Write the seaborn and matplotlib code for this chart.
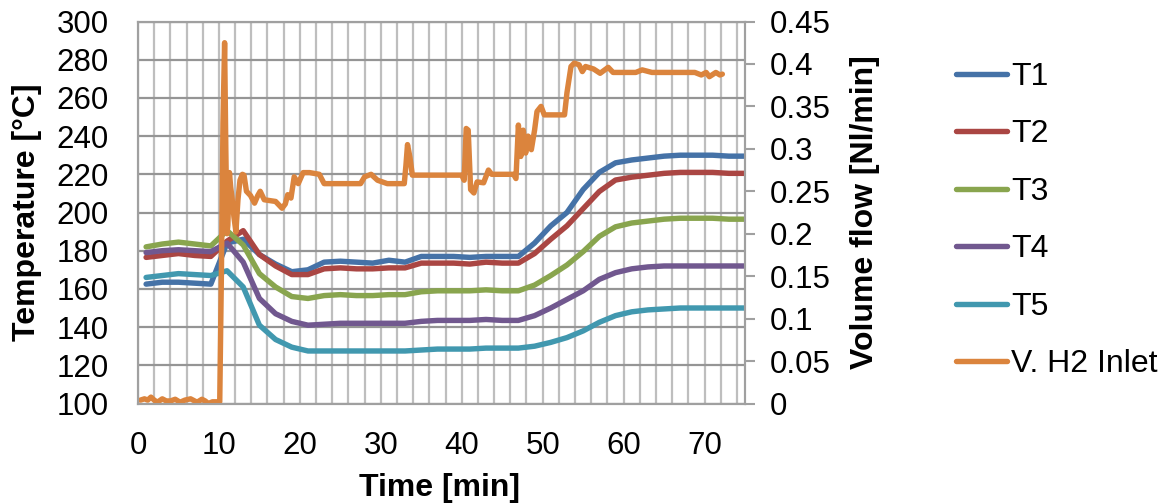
import numpy as np
import pandas as pd
import matplotlib
matplotlib.use("Agg")
import matplotlib.pyplot as plt
from matplotlib.ticker import MultipleLocator, FuncFormatter
import seaborn as sns

# ---------------- data ----------------
temp_time = [1, 3, 5, 7, 9, 11, 13, 15, 17, 19, 21, 23, 25, 27, 29, 31, 33, 35, 37,
             39, 41, 43, 45, 47, 49, 51, 53, 55, 57, 59, 61, 63, 65, 67, 69, 71, 73, 75]
T1 = [162.5, 163.5, 163.5, 163, 162.5, 184, 186, 178, 173, 169, 170, 174, 174.5, 174,
      173.5, 175, 174, 177, 177, 177, 176.5, 177, 177, 177, 184, 193, 200, 212, 221,
      226, 227.5, 228.5, 229.5, 230, 230, 230, 229.5, 229.5]
T2 = [176.5, 177.5, 178.5, 177.5, 177, 185, 190.5, 178, 172, 167.5, 167.5, 170.5, 171,
      170.5, 170.5, 171, 171, 173.5, 173.5, 173.5, 173, 174, 173.5, 173.5, 178.5, 186,
      193, 202, 211, 217, 218.5, 219.5, 220.5, 221, 221, 221, 220.5, 220.5]
T3 = [182, 183.5, 184.5, 183.5, 182.5, 190.5, 183, 168, 161, 156, 155, 156.5, 157, 156.5,
      156.5, 157, 157, 158.5, 159, 159, 159, 159.5, 159, 159, 162, 167, 172.5, 179.5,
      187.5, 192.5, 194.5, 195.5, 196.5, 197, 197, 197, 196.5, 196.5]
T4 = [179, 180, 180.5, 180, 179.5, 184, 174, 155, 147, 143, 141, 141.5, 142, 142, 142,
      142, 142, 143, 143.5, 143.5, 143.5, 144, 143.5, 143.5, 146, 150, 154.5, 159, 165,
      168.5, 170.5, 171.5, 172, 172, 172, 172, 172, 172]
T5 = [166, 167, 168, 167.5, 167, 169.5, 161, 141, 133.5, 129.5, 127.5, 127.5, 127.5,
      127.5, 127.5, 127.5, 127.5, 128, 128.5, 128.5, 128.5, 129, 129, 129, 130, 132,
      134.5, 138, 142.5, 146, 148, 149, 149.5, 150, 150, 150, 150, 150]

vol_time = [0.3, 0.8, 1.2, 1.6, 2.0, 2.4, 3.0, 3.5, 4.0, 4.6, 5.2, 5.8, 6.5, 7.0, 7.3,
            7.9, 8.3, 8.7, 9.2, 9.7, 10.1, 10.3, 10.5, 10.7, 10.85, 11.0, 11.1, 11.3,
            11.45, 11.6, 11.85, 12.1, 12.35, 12.6, 12.9, 13.1, 13.4, 13.9, 14.4, 14.8,
            15.1, 15.6, 16.3, 17.0, 17.8, 18.2, 18.5, 18.9, 19.3, 19.8, 20.4, 21.2,
            22.4, 23.0, 25.0, 27.5, 28.0, 28.8, 29.6, 30.8, 32.9, 33.1, 33.3, 33.6,
            33.9, 35.0, 37.0, 40.0, 40.3, 40.55, 40.8, 41.1, 41.5, 41.9, 42.7, 43.3,
            43.7, 46.4, 46.7, 47.0, 47.3, 47.6, 47.9, 48.2, 48.6, 49.0, 49.3, 49.8,
            50.2, 52.7, 53.0, 53.5, 53.9, 54.5, 54.9, 55.3, 56.3, 57.1, 58.1, 58.7,
            61.5, 62.3, 63.5, 68.8, 69.6, 70.2, 70.6, 71.4, 71.9, 72.2]
vol_flow = [0.004, 0.0055, 0.004, 0.0075, 0.004, 0.0015, 0.0055, 0.003, 0.003, 0.005,
            0.0015, 0.004, 0.0055, 0.003, 0.0015, 0.005, 0.003, 0.0, 0.002, 0.002,
            0.002, 0.15, 0.33, 0.425, 0.30, 0.20, 0.21, 0.272, 0.255, 0.244, 0.22,
            0.202, 0.24, 0.263, 0.27, 0.269, 0.25, 0.245, 0.236, 0.245, 0.25, 0.24,
            0.239, 0.238, 0.23, 0.235, 0.246, 0.242, 0.267, 0.259, 0.272, 0.272, 0.27,
            0.259, 0.259, 0.259, 0.267, 0.27, 0.263, 0.259, 0.259, 0.28, 0.305, 0.29,
            0.269, 0.269, 0.269, 0.269, 0.263, 0.324, 0.322, 0.252, 0.248, 0.261, 0.26,
            0.275, 0.27, 0.27, 0.265, 0.328, 0.291, 0.322, 0.295, 0.315, 0.299, 0.322,
            0.344, 0.35, 0.34, 0.34, 0.366, 0.397, 0.401, 0.399, 0.391, 0.397, 0.394,
            0.389, 0.396, 0.39, 0.39, 0.393, 0.39, 0.39, 0.387, 0.39, 0.385, 0.39,
            0.387, 0.388]

temp_names = ["T1", "T2", "T3", "T4", "T5"]
vol_name = "V. H2 Inlet"
temp_colors = ["#4572A7", "#AA4643", "#89A54E", "#71588F", "#4198AF"]
vol_color = "#DB843D"

# ---------------- figure ----------------
sns.set_style("white")
plt.rcParams["font.family"] = ["Liberation Sans", "DejaVu Sans"]
for k in ("text.color", "axes.labelcolor", "xtick.color", "ytick.color"):
    plt.rcParams[k] = "black"
FS_TICK = 22.5
FS = 23
LW = 3.9

df = pd.DataFrame({
    "time": temp_time * 5,
    "temp": T1 + T2 + T3 + T4 + T5,
    "series": sum([[n] * len(temp_time) for n in temp_names], []),
})
dfv = pd.DataFrame({"time": vol_time, "flow": vol_flow, "series": vol_name})

fig = plt.figure(figsize=(11.65, 5.04), dpi=100)
ax = fig.add_axes([138 / 1165, 1 - 403.5 / 504, (745 - 138) / 1165, (403.5 - 21.5) / 504])

sns.lineplot(data=df, x="time", y="temp", hue="series", hue_order=temp_names,
             palette=temp_colors, linewidth=LW, ax=ax, legend=False, sort=False,
             estimator=None, solid_capstyle="round", solid_joinstyle="round")
ax2 = ax.twinx()
sns.lineplot(data=dfv, x="time", y="flow", color=vol_color, linewidth=LW, ax=ax2,
             legend=False, sort=False, estimator=None, solid_capstyle="round",
             solid_joinstyle="round")

ax.set_xlim(0, 75)
ax.set_ylim(100, 300)
ax2.set_ylim(0, 0.45)

ax.xaxis.set_major_locator(MultipleLocator(10))
ax.xaxis.set_minor_locator(MultipleLocator(2))
ax.yaxis.set_major_locator(MultipleLocator(20))
ax2.yaxis.set_major_locator(MultipleLocator(0.05))
ax2.yaxis.set_major_formatter(FuncFormatter(lambda v, p: f"{round(v, 2):g}"))

ax.grid(True, which="minor", axis="x", color="#BEBEBE", linewidth=1.6)
ax.grid(True, which="major", axis="x", color="#BEBEBE", linewidth=1.6)
ax.grid(True, which="major", axis="y", color="#959595", linewidth=1.6)
ax.set_axisbelow(True)

for a in (ax, ax2):
    for s in a.spines.values():
        s.set_color("#A0A0A0")
        s.set_linewidth(1.5)

ax.tick_params(axis="x", which="both", length=0, pad=20, labelsize=FS_TICK)
ax.tick_params(axis="y", length=0, pad=21, labelsize=FS_TICK)
ax2.tick_params(axis="y", length=7, width=1.5, color="#A0A0A0", direction="out",
                pad=11, labelsize=FS_TICK)

ax.set_xlabel("Time [min]", fontsize=FS, fontweight="bold")
ax.set_ylabel("Temperature [°C]", fontsize=FS, fontweight="bold")
ax2.set_ylabel("Volume flow [Nl/min]", fontsize=FS, fontweight="bold")
ax.xaxis.set_label_coords((440 - 138) / 607, -(488 - 403.5) / 382)
ax.xaxis.label.set_va("center")
ax.yaxis.set_label_coords((27 - 138) / 607, 0.5)
ax.yaxis.label.set_va("center")
ax2.yaxis.set_label_coords((865 - 138) / 607, 0.5)
ax2.yaxis.label.set_va("center")

handles = [plt.Line2D([], [], color=c, linewidth=LW, solid_capstyle="round")
           for c in temp_colors + [vol_color]]
labels = temp_names + [vol_name]
fig.legend(handles, labels, loc="upper left", bbox_to_anchor=(940 / 1165, 1 - 46 / 504),
           frameon=False, fontsize=FS, handlelength=1.6, handletextpad=0.12,
           labelspacing=0.86, borderpad=0)

fig.savefig("out.png", dpi=100)
